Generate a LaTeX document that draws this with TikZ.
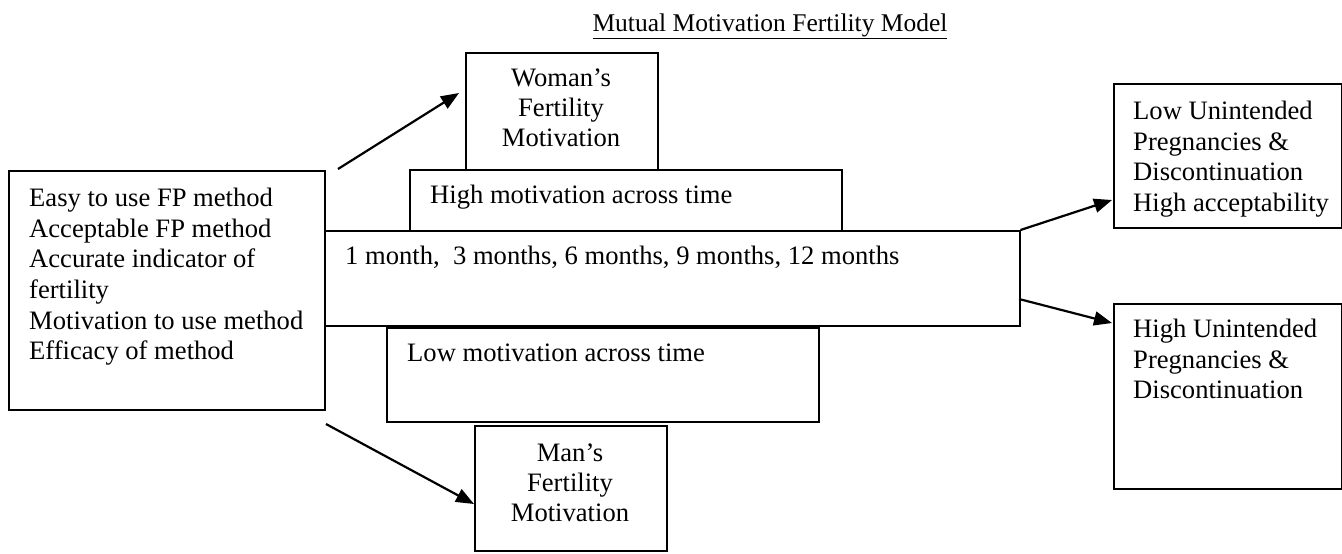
\documentclass[tikz,border=0pt]{standalone}
\usepackage{fontspec}
\setmainfont{Liberation Serif}
\usetikzlibrary{arrows.meta,calc}
\begin{document}
\begin{tikzpicture}[x=1pt,y=-1pt,
  box/.style={draw,line width=1.5pt,fill=white,rectangle,inner sep=0pt,anchor=north west},
  txt/.style={font=\fontsize{26.6}{30.6}\selectfont,inner sep=0pt,align=left},
  ctxt/.style={font=\fontsize{26.6}{30}\selectfont,inner sep=0pt,align=center},
  arr/.style={line width=2.2pt,-{Triangle[length=18pt,width=14pt]}}]
\useasboundingbox (0,0) rectangle (1342,554);
% title
\node[font=\fontsize{25.5}{30}\selectfont,inner sep=0pt] (title) at (770,26) {\underline{Mutual Motivation Fertility Model}};
% boxes
\node[box,minimum width=192pt,minimum height=117pt] (woman) at (465,52) {};
\node[ctxt] (womantxt) at (561,108) {Woman’s\\Fertility\\Motivation};
\node[box,minimum width=432pt,minimum height=61pt] (high) at (409,169) {};
\node[txt,anchor=west] (hightxt) at (430,197) {High motivation across time};
\node[box,minimum width=695pt,minimum height=95pt] (timeline) at (324,230) {};
\node[txt,anchor=west] (timetxt) at (345,257) {1 month,\ \ 3 months, 6 months, 9 months, 12 months};
\node[box,minimum width=432pt,minimum height=94pt] (low) at (386,327) {};
\node[txt,anchor=west] (lowtxt) at (407,353) {Low motivation across time};
\node[box,minimum width=192pt,minimum height=125pt] (man) at (474,425) {};
\node[ctxt] (mantxt) at (570,483) {Man’s\\Fertility\\Motivation};
\node[box,minimum width=316pt,minimum height=239pt] (left) at (8,170) {};
\node[txt,anchor=north west] (lefttxt) at (29,188) {Easy to use FP method\\Acceptable FP method\\Accurate indicator of\\fertility\\Motivation to use method\\Efficacy of method};
\node[box,minimum width=228pt,minimum height=144pt] (rtop) at (1113,83) {};
\node[txt,anchor=north west] (rtoptxt) at (1133,101) {Low Unintended\\Pregnancies \&\\Discontinuation\\High acceptability};
\node[box,minimum width=228pt,minimum height=185pt] (rbot) at (1113,303) {};
\node[txt,anchor=north west] (rbottxt) at (1133,319) {High Unintended\\Pregnancies \&\\Discontinuation};
% arrows
\coordinate (a1s) at (338,169);
\coordinate (a1e) at (459,93);
\coordinate (a2s) at (326,424);
\coordinate (a2e) at (474,504);
\coordinate (a3e) at (1112,200);
\coordinate (a4s) at (1019,299);
\coordinate (a4e) at (1112,323);
\draw[arr] (a1s) -- (a1e);
\draw[arr] (a2s) -- (a2e);
\draw[arr] (timeline.north east) -- (a3e);
\draw[arr] (a4s) -- (a4e);
\end{tikzpicture}
\end{document}
